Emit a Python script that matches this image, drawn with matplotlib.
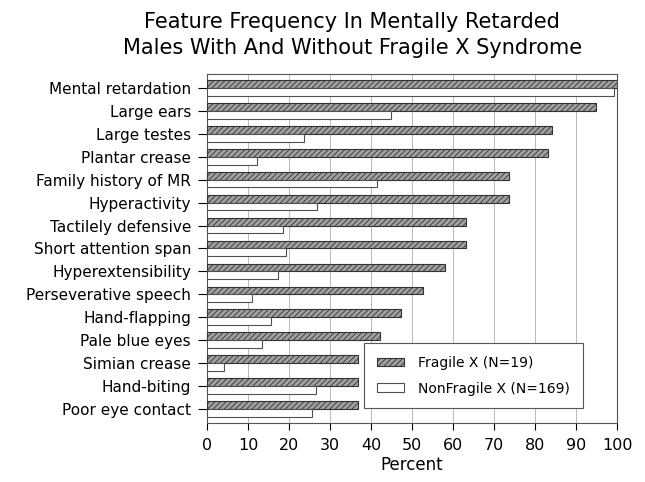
import numpy as np
import matplotlib.pyplot as plt
from matplotlib.patches import Patch

# Feature frequency data (percent)
features = [
    "Mental retardation", "Large ears", "Large testes", "Plantar crease",
    "Family history of MR", "Hyperactivity", "Tactilely defensive",
    "Short attention span", "Hyperextensibility", "Perseverative speech",
    "Hand-flapping", "Pale blue eyes", "Simian crease", "Hand-biting",
    "Poor eye contact",
]
fragile_x = [100, 94.7, 84.2, 83.2, 73.6, 73.7, 63.2, 63.2, 57.9, 52.6,
             47.4, 42.1, 36.8, 36.8, 36.8]
nonfragile_x = [99.2, 44.8, 23.7, 12.2, 41.4, 26.9, 18.5, 19.2, 17.4, 10.9,
                15.6, 13.5, 4.2, 26.6, 25.7]
x_ticks = [0, 10, 20, 30, 40, 50, 60, 70, 80, 90, 100]

plt.rcParams['hatch.linewidth'] = 0.6
plt.rcParams['font.family'] = 'DejaVu Sans'

fig = plt.figure(figsize=(6.45, 4.82), dpi=100)
ax = fig.add_axes([0.321, 0.122, 0.636, 0.724])

y = np.arange(len(features))
h = 0.34

ax.barh(y - h / 2, fragile_x, height=h, color='#a0a0a0', edgecolor='#333333',
        hatch='//////', linewidth=0.8, zorder=3)
ax.barh(y + h / 2, nonfragile_x, height=h, color='white', edgecolor='#505050',
        linewidth=0.8, zorder=3)

ax.set_xlim(0, 100)
ax.set_ylim(14.62, -0.6)
ax.set_xticks(x_ticks)
ax.set_yticks(y)
ax.set_yticklabels(features, fontsize=11)
ax.tick_params(axis='x', labelsize=11.5, length=5, width=0.8, pad=6)
ax.tick_params(axis='y', length=6.5, width=0.8, pad=5)
ax.grid(axis='x', color='#b8b8b8', linewidth=0.7, zorder=0)
for s in ax.spines.values():
    s.set_color('#555555')
    s.set_linewidth(0.8)

ax.set_xlabel("Percent", fontsize=12, labelpad=2)
fig.suptitle("Feature Frequency In Mentally Retarded\n"
             "Males With And Without Fragile X Syndrome",
             fontsize=15, x=0.546, y=0.975, linespacing=1.35)

handles = [
    Patch(facecolor='#a0a0a0', edgecolor='#333333', hatch='//////', linewidth=0.8),
    Patch(facecolor='white', edgecolor='#505050', linewidth=0.8),
]
leg = ax.legend(handles, ["Fragile X (N=19)", "NonFragile X (N=169)"],
                loc='lower left', bbox_to_anchor=(0.383, 0.043), borderaxespad=0,
                fontsize=10, fancybox=False, edgecolor='#555555', framealpha=1,
                handlelength=2.0, handleheight=0.6, borderpad=0.9,
                labelspacing=0.85, handletextpad=1.0)
leg.get_frame().set_linewidth(0.8)
leg.set_zorder(5)

fig.savefig("out.png", dpi=100)
